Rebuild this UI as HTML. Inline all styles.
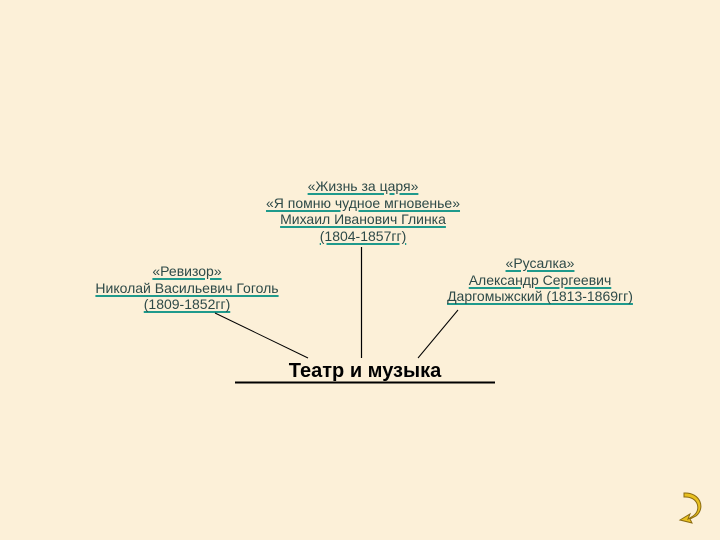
<!DOCTYPE html>
<html><head><meta charset="utf-8"><style>
body{margin:0;width:720px;height:540px;background:#fcf0d8;position:relative;overflow:hidden;font-family:"Liberation Sans",sans-serif}
.t{position:absolute;text-align:center;font-size:14px;line-height:16.7px;color:#2e4a48;white-space:nowrap;transform:translateX(-50%)}
.t span{text-decoration:underline;text-decoration-color:#1f9a8c;text-decoration-thickness:2px;text-underline-offset:2px}
</style></head><body>
<div class="t" style="left:363px;top:178px"><span>«Жизнь за царя»</span><br><span>«Я помню чудное мгновенье»</span><br><span>Михаил Иванович Глинка</span><br><span>(1804-1857гг)</span></div>
<div class="t" style="left:187px;top:263px"><span>«Ревизор»</span><br><span>Николай Васильевич Гоголь</span><br><span>(1809-1852гг)</span></div>
<div class="t" style="left:540px;top:255px"><span>«Русалка»</span><br><span>Александр Сергеевич</span><br><span>Даргомыжский (1813-1869гг)</span></div>
<div style="position:absolute;left:215px;width:300px;top:360px;text-align:center;font-weight:bold;font-size:20px;color:#000">Театр и музыка</div>
<svg width="720" height="540" style="position:absolute;left:0;top:0">
<line x1="235" y1="382.5" x2="495" y2="382.5" stroke="#000" stroke-width="2"/>
<line x1="361.5" y1="247" x2="361.5" y2="358" stroke="#000" stroke-width="1.2"/>
<line x1="215" y1="313" x2="308" y2="358" stroke="#000" stroke-width="1"/>
<line x1="458" y1="310" x2="418" y2="358" stroke="#000" stroke-width="1"/>
<path d="M684 497 C698 496 702 510 693 516 L688 519 L690 514 L680 520 L692 523 L690 519 L696 516 C706 508 700 492 684 493 Z" fill="#e8c020" stroke="#8a6a10" stroke-width="1"/>
</svg>
</body></html>
